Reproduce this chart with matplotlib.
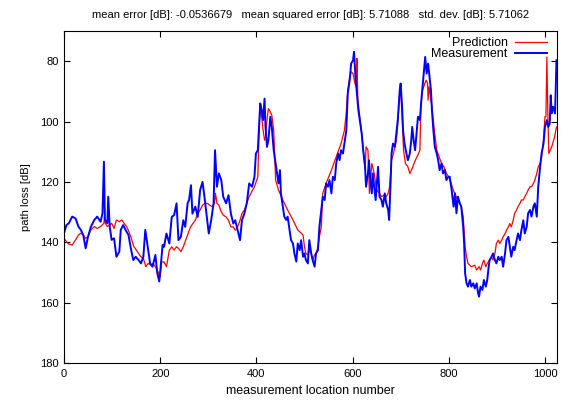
import numpy as np
import matplotlib
matplotlib.use("Agg")
import matplotlib.pyplot as plt

plt.rcParams['font.family'] = ['Liberation Sans', 'DejaVu Sans']

meas_x = [0, 5, 10, 17, 24, 30, 35, 40, 45, 50, 56, 63, 69, 76, 80, 83, 85, 90, 92, 95,
          99, 104, 109, 115, 118, 123, 128, 134, 139, 144, 149, 155, 160, 165, 169, 174, 179, 184, 190, 194,
          198, 201, 205, 208, 213, 219, 224, 229, 234, 238, 243, 248, 252, 257, 260, 264, 267, 273, 278, 283,
          288, 292, 297, 301, 306, 311, 314, 318, 322, 327, 331, 337, 342, 347, 352, 356, 361, 366, 370, 375,
          380, 385, 391, 396, 399, 403, 406, 408, 411, 414, 417, 419, 422, 425, 429, 432, 436, 440, 443, 446,
          449, 451, 455, 458, 462, 465, 469, 472, 476, 479, 483, 486, 490, 493, 497, 500, 503, 507, 510, 514,
          517, 521, 524, 528, 531, 535, 538, 542, 545, 549, 552, 556, 559, 563, 566, 570, 573, 576, 580, 583,
          587, 590, 594, 597, 601, 603, 606, 609, 612, 615, 619, 622, 626, 628, 632, 634, 637, 640, 642, 645,
          648, 651, 653, 656, 660, 663, 667, 670, 674, 676, 679, 681, 684, 688, 691, 694, 698, 700, 703, 705,
          708, 712, 715, 719, 722, 724, 727, 730, 733, 736, 740, 743, 746, 749, 751, 754, 757, 760, 763, 765,
          768, 771, 775, 778, 781, 785, 788, 792, 795, 799, 802, 806, 810, 813, 816, 819, 823, 826, 830, 832,
          834, 837, 840, 844, 847, 851, 854, 858, 861, 863, 866, 870, 873, 877, 880, 883, 885, 889, 892, 896,
          899, 903, 906, 910, 913, 917, 920, 924, 927, 930, 934, 937, 941, 944, 948, 951, 955, 958, 962, 965,
          969, 972, 976, 979, 983, 986, 990, 993, 997, 1000, 1004, 1007, 1010, 1012, 1014, 1017, 1021, 1024]
meas_db = [137.0, 134.3, 133.7, 131.5, 132.1, 134.8, 135.9, 137.6, 142.0, 138.1, 134.8, 132.6, 131.5, 133.2, 130.4, 113.3, 132.6, 133.7, 124.9, 134.8,
           139.2, 138.7, 144.8, 143.1, 135.9, 134.3, 135.9, 137.6, 142.0, 145.9, 144.8, 145.9, 147.0, 144.8, 135.9, 141.4, 147.0, 148.1, 144.2, 150.3,
           153.0, 148.1, 140.9, 141.5, 137.1, 140.4, 131.6, 131.0, 127.1, 139.3, 138.2, 132.7, 134.9, 127.1, 126.0, 121.1, 130.5, 128.2, 131.6, 122.7,
           120.0, 124.9, 131.6, 137.1, 132.7, 127.1, 109.5, 121.6, 117.2, 119.4, 124.9, 127.1, 124.4, 130.5, 133.8, 132.7, 136.0, 139.3, 132.7, 130.5,
           127.1, 120.5, 121.6, 118.3, 110.6, 109.5, 100.6, 94.0, 96.2, 99.5, 92.4, 101.8, 108.4, 106.2, 98.4, 101.8, 109.5, 113.9, 117.2, 120.5,
           116.1, 123.8, 128.2, 131.5, 132.6, 131.5, 135.9, 139.3, 140.4, 143.7, 146.4, 140.4, 142.6, 139.3, 144.8, 143.7, 145.9, 147.0, 139.3, 143.7,
           145.9, 148.1, 143.7, 142.6, 134.9, 129.3, 124.9, 126.0, 120.5, 121.6, 119.4, 123.8, 118.3, 119.4, 113.9, 110.6, 112.8, 109.5, 110.6, 107.3,
           102.9, 90.7, 86.3, 80.8, 79.7, 76.9, 85.2, 90.7, 96.2, 99.5, 104.0, 109.5, 115.0, 121.6, 117.2, 112.8, 119.4, 123.8, 117.2, 121.6,
           126.0, 119.4, 115.0, 124.9, 126.0, 128.2, 123.8, 127.1, 129.3, 132.6, 120.5, 110.6, 107.3, 108.4, 104.0, 99.5, 89.6, 87.4, 95.1, 102.9,
           107.3, 110.6, 112.8, 110.6, 106.2, 101.8, 106.2, 109.5, 104.0, 98.4, 99.5, 92.9, 87.4, 81.9, 78.6, 84.1, 80.8, 85.2, 89.6, 96.2,
           102.9, 108.4, 110.6, 112.8, 116.1, 113.9, 117.2, 116.1, 119.4, 118.3, 118.3, 122.7, 128.2, 123.8, 130.4, 124.9, 127.1, 128.2, 134.9, 140.4,
           150.3, 153.6, 154.7, 152.5, 154.7, 153.6, 155.3, 153.6, 156.9, 158.0, 154.7, 155.8, 152.5, 154.7, 152.5, 148.1, 145.9, 144.8, 143.7, 145.9,
           147.0, 144.8, 145.9, 144.8, 148.1, 143.7, 139.3, 138.2, 141.5, 144.8, 141.5, 142.6, 139.3, 137.1, 139.3, 136.0, 132.7, 137.1, 134.9, 130.4,
           129.3, 131.5, 128.2, 127.1, 131.5, 121.6, 115.0, 110.6, 107.3, 101.8, 99.5, 101.8, 100.6, 91.3, 97.3, 95.1, 97.3, 79.7]

# predicted path loss
pred_x = [0, 5, 10, 17, 24, 30, 35, 40, 45, 50, 56, 63, 69, 76, 83, 84, 86, 90, 95, 99,
          104, 109, 115, 120, 125, 130, 135, 140, 145, 150, 155, 160, 165, 170, 175, 180, 185, 190, 195, 200,
          203, 208, 213, 219, 224, 229, 234, 238, 243, 248, 253, 258, 263, 268, 273, 278, 283, 288, 293, 298,
          303, 308, 313, 315, 318, 322, 327, 331, 337, 342, 347, 352, 356, 361, 366, 370, 375, 380, 385, 391,
          396, 403, 405, 408, 411, 414, 417, 419, 422, 425, 429, 432, 436, 440, 446, 455, 465, 476, 486, 497,
          500, 503, 507, 510, 514, 517, 521, 524, 528, 531, 535, 538, 545, 556, 566, 576, 583, 587, 590, 594,
          597, 601, 605, 608, 609, 611, 615, 622, 626, 628, 632, 635, 640, 645, 650, 656, 660, 665, 670, 674,
          677, 681, 685, 688, 691, 694, 698, 700, 703, 706, 710, 715, 719, 724, 730, 736, 740, 742, 745, 750,
          753, 756, 757, 759, 765, 770, 775, 780, 785, 790, 795, 800, 805, 810, 819, 826, 830, 834, 837, 840,
          847, 854, 858, 863, 866, 870, 873, 877, 880, 885, 889, 892, 896, 899, 903, 906, 910, 913, 917, 920,
          924, 927, 930, 934, 937, 941, 944, 948, 951, 955, 958, 962, 965, 969, 972, 976, 979, 983, 986, 990,
          993, 997, 1000, 1002, 1004, 1006, 1008, 1014, 1020, 1024]
pred_db = [138.7, 139.8, 140.6, 140.9, 139.2, 137.6, 137.0, 137.6, 138.7, 138.1, 135.9, 134.8, 135.4, 134.8, 133.7, 131.5, 133.7, 134.8, 134.3, 133.7,
           135.4, 132.6, 133.2, 132.6, 133.7, 134.8, 136.5, 138.7, 141.4, 142.5, 143.7, 144.8, 145.3, 148.1, 147.0, 147.5, 147.0, 148.1, 149.7, 151.4,
           146.5, 146.5, 148.1, 142.6, 141.5, 142.6, 141.5, 142.0, 143.1, 141.5, 139.3, 137.1, 134.9, 133.8, 132.7, 130.5, 129.3, 127.7, 127.1, 127.1,
           127.7, 128.2, 127.1, 123.8, 127.1, 127.7, 129.9, 131.0, 131.6, 132.7, 134.9, 134.9, 136.0, 134.9, 132.7, 130.5, 129.3, 127.1, 124.9, 123.0,
           121.6, 118.3, 106.0, 95.1, 98.4, 102.9, 106.2, 105.1, 99.5, 95.7, 96.8, 97.9, 102.9, 119.4, 122.7, 126.0, 129.3, 132.6, 135.9, 137.6,
           141.5, 143.7, 144.2, 142.6, 143.7, 145.9, 144.2, 143.7, 141.5, 138.2, 134.9, 123.8, 120.5, 116.1, 111.7, 107.3, 102.9, 96.8, 89.6, 85.2,
           83.5, 84.1, 87.4, 88.5, 79.1, 92.9, 98.4, 108.4, 116.1, 108.4, 109.5, 123.8, 113.9, 117.2, 122.7, 123.8, 124.9, 124.4, 124.9, 123.8,
           121.6, 112.8, 110.6, 108.4, 106.2, 100.6, 90.7, 89.6, 98.4, 109.5, 113.9, 115.0, 117.2, 115.5, 113.0, 111.0, 109.5, 95.1, 90.0, 87.4,
           86.3, 87.4, 92.9, 88.5, 95.1, 102.9, 109.5, 111.7, 113.9, 115.0, 117.2, 118.3, 120.5, 123.0, 126.0, 128.2, 131.5, 141.5, 144.8, 147.0,
           148.1, 147.6, 149.2, 148.1, 149.2, 147.0, 145.9, 148.1, 147.0, 145.9, 144.8, 145.9, 143.7, 140.4, 139.3, 140.4, 139.3, 138.2, 137.1, 136.0,
           134.9, 133.8, 134.9, 132.7, 130.4, 129.3, 128.2, 127.1, 126.0, 126.0, 124.9, 123.8, 122.7, 121.6, 121.6, 120.5, 119.4, 117.2, 115.0, 113.9,
           111.7, 106.2, 98.4, 98.4, 78.6, 97.3, 110.6, 108.4, 105.1, 101.8]

title = ("mean error [dB]: -0.0536679   mean squared error [dB]: 5.71088   "
         "std. dev. [dB]: 5.71062")

fig = plt.figure(figsize=(5.63, 4.01), dpi=100)
ax = fig.add_axes([0.1137, 0.0948, 0.8756, 0.8279])

ax.plot(pred_x, pred_db, color='#ff0000', lw=0.9, label='Prediction')
ax.plot(meas_x, meas_db, color='#0000ff', lw=1.4, label='Measurement')

ax.set_xlim(0, 1025)
ax.set_ylim(180, 70)
ax.set_xticks(np.arange(0, 1001, 200))
ax.set_yticks(np.arange(80, 181, 20))
ax.tick_params(direction='in', top=True, right=True, length=4, width=0.8,
               labelsize=8, pad=4)
for s in ax.spines.values():
    s.set_linewidth(0.8)

ax.set_xlabel('measurement location number', fontsize=9, labelpad=5)
ax.set_ylabel('path loss [dB]', fontsize=8, labelpad=6)
ax.set_title(title, fontsize=8, pad=9)

ax.legend(loc='upper right', bbox_to_anchor=(0.98, 0.982), frameon=False,
          markerfirst=False, fontsize=9, handlelength=2.6, handletextpad=0.55,
          labelspacing=-0.05, borderpad=0, borderaxespad=0)

fig.savefig('out.png', dpi=100)
